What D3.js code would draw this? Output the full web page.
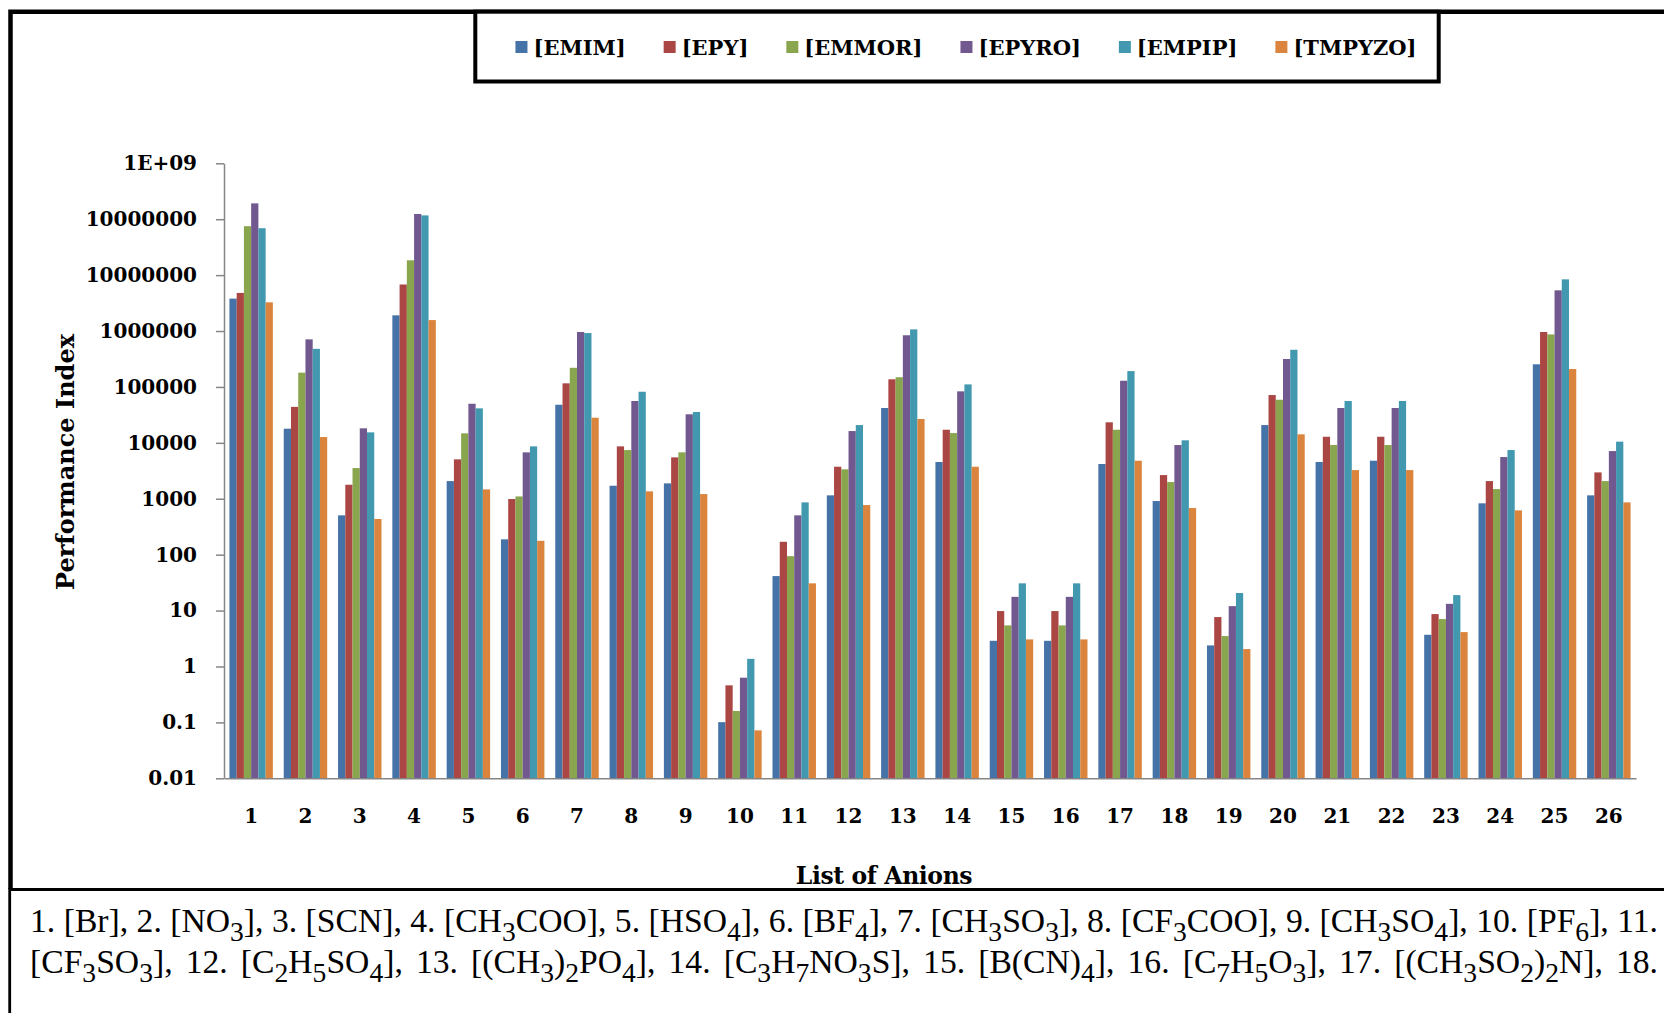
<!DOCTYPE html>
<html>
<head>
<meta charset="utf-8">
<script src="https://cdn.jsdelivr.net/npm/d3@7"></script>
<style>
  html, body { margin: 0; padding: 0; background: #fff; }
  svg { display: block; }
</style>
</head>
<body>
<svg id="chart" width="1664" height="1013"></svg>
<script>
// ---- data ----
const anions = ["1","2","3","4","5","6","7","8","9","10","11","12","13",
                "14","15","16","17","18","19","20","21","22","23","24","25","26"];
const seriesNames = ["[EMIM]", "[EPY]", "[EMMOR]", "[EPYRO]", "[EMPIP]", "[TMPYZO]"];
const seriesColors = ["#4572A7", "#AA4643", "#89A54E", "#71588F", "#4198AF", "#DB843D"];

const emim   = [3.8e6, 1.79e4, 505, 1.91e6, 2070, 188, 4.8e4, 1710, 1885, 0.101, 41.4, 1150, 4.2e4,
                4540, 2.88, 2.88, 4180, 910, 2.38, 2.08e4, 4540, 4790, 3.69, 828, 2.54e5, 1150];
const epy    = [4.8e6, 4.4e4, 1780, 6.8e6, 5070, 990, 1.16e5, 8650, 5500, 0.46, 170, 3740, 1.37e5,
                1.715e4, 9.8, 9.8, 2.33e4, 2650, 7.65, 7.16e4, 1.285e4, 1.285e4, 8.65, 2070, 9.6e5, 2960];
const emmor  = [7.5e7, 1.8e5, 3540, 1.84e7, 1.48e4, 1100, 2.2e5, 7430, 6760, 0.16, 94, 3360, 1.49e5,
                1.496e4, 5.43, 5.43, 1.715e4, 1990, 3.5, 5.9e4, 9140, 9140, 7.05, 1490, 8.7e5, 2070];
const epyro  = [1.92e8, 7.1e5, 1.82e4, 1.24e8, 5.0e4, 6760, 9.6e5, 5.6e4, 3.24e4, 0.63, 505, 1.625e4, 8.4e5,
                8.34e4, 17.6, 17.6, 1.29e5, 9140, 12, 3.16e5, 4.2e4, 4.2e4, 13.2, 5570, 5.35e6, 7130];
const empip  = [6.9e7, 4.8e5, 1.54e4, 1.17e8, 4.14e4, 8650, 9.2e5, 8.2e4, 3.56e4, 1.37, 861, 2.08e4, 1.07e6,
                1.11e5, 30.7, 30.7, 1.92e5, 1.11e4, 20.6, 4.62e5, 5.6e4, 5.6e4, 18.9, 7430, 8.4e6, 1.05e4];
const tmpyzo = [3.26e6, 1.27e4, 434, 1.57e6, 1470, 177, 2.81e4, 1356, 1213, 0.072, 30.7, 771, 2.67e4,
                3740, 3.05, 3.05, 4790, 682, 2.05, 1.42e4, 3260, 3260, 4.12, 620, 2.09e5, 861];
const seriesValues = [emim, epy, emmor, epyro, empip, tmpyzo];

const yTickValues = [0.01, 0.1, 1, 10, 100, 1000, 10000, 1e5, 1e6, 1e7, 1e8, 1e9];
const yTickLabels = ["0.01", "0.1", "1", "10", "100", "1000", "10000", "100000",
                     "1000000", "10000000", "10000000", "1E+09"];

// anion key under the chart; {n} marks a subscript
const keyLines = [
  "1. [Br], 2. [NO{3}], 3. [SCN], 4. [CH{3}COO], 5. [HSO{4}], 6. [BF{4}], 7. [CH{3}SO{3}], 8. [CF{3}COO], 9. [CH{3}SO{4}], 10. [PF{6}], 11.",
  "[CF{3}SO{3}], 12. [C{2}H{5}SO{4}], 13. [(CH{3}){2}PO{4}], 14. [C{3}H{7}NO{3}S], 15. [B(CN){4}], 16. [C{7}H{5}O{3}], 17. [(CH{3}SO{2}){2}N], 18."
];

// ---- layout ----
const svg = d3.select("#chart");
const boldSerif = "'DejaVu Serif', serif";
const plot = { left: 224, right: 1636, top: 163.3, bottom: 778.3 };

svg.append("rect").attr("width", 1664).attr("height", 1013).attr("fill", "#fff");

const x0 = d3.scaleBand().domain(anions).range([plot.left, plot.right])
  .paddingInner(0.2).paddingOuter(0.1);
const x1 = d3.scaleBand().domain(seriesNames).range([0, x0.bandwidth()]);
const y = d3.scaleLog().domain([0.01, 1e9]).range([plot.bottom, plot.top]);

// bars
const groups = svg.append("g").selectAll("g")
  .data(anions).join("g")
  .attr("transform", d => `translate(${x0(d)},0)`);
groups.selectAll("rect")
  .data((d, i) => seriesNames.map((s, k) => ({ s, k, v: seriesValues[k][i] })))
  .join("rect")
  .attr("x", d => x1(d.s))
  .attr("width", x1.bandwidth())
  .attr("y", d => y(d.v))
  .attr("height", d => plot.bottom - y(d.v))
  .attr("fill", d => seriesColors[d.k]);

// y axis
const yAxis = svg.append("g")
  .attr("transform", `translate(${plot.left},0)`)
  .call(d3.axisLeft(y).tickValues(yTickValues)
    .tickFormat((d, i) => yTickLabels[i]).tickSize(8).tickSizeOuter(0).tickPadding(19));
yAxis.selectAll("path, line").attr("stroke", "#868686").attr("stroke-width", 1.5);
yAxis.selectAll("text").attr("font-family", boldSerif).attr("font-weight", "bold")
  .attr("font-size", 20).attr("fill", "#000");

// x axis
const xAxis = svg.append("g")
  .attr("transform", `translate(0,${plot.bottom})`)
  .call(d3.axisBottom(x0).tickSize(0).tickSizeOuter(0).tickPadding(31));
xAxis.select("path").attr("stroke", "#868686").attr("stroke-width", 1.5);
xAxis.selectAll("text").attr("font-family", boldSerif).attr("font-weight", "bold")
  .attr("font-size", 20).attr("fill", "#000");

// axis titles
svg.append("text")
  .attr("transform", "translate(65,462) rotate(-90)")
  .attr("text-anchor", "middle").attr("dominant-baseline", "central")
  .attr("font-family", boldSerif).attr("font-weight", "bold").attr("font-size", 24)
  .text("Performance Index");
svg.append("text")
  .attr("x", 884).attr("y", 884)
  .attr("text-anchor", "middle")
  .attr("font-family", boldSerif).attr("font-weight", "bold").attr("font-size", 23.5)
  .attr("letter-spacing", -0.4)
  .text("List of Anions");

// outer frame of the chart area
svg.append("path")
  .attr("d", "M1664,11.7H10.5V889")
  .attr("fill", "none").attr("stroke", "#000").attr("stroke-width", 4.5);

// legend
svg.append("rect")
  .attr("x", 475.3).attr("y", 11.7).attr("width", 963.4).attr("height", 69.8)
  .attr("fill", "#fff").attr("stroke", "#000").attr("stroke-width", 4);
const legend = svg.append("g");
const items = legend.selectAll("g").data(seriesNames).join("g");
items.append("rect").attr("width", 12).attr("height", 12).attr("y", 41)
  .attr("fill", (d, i) => seriesColors[i]);
items.append("text").attr("x", 18).attr("y", 55)
  .attr("font-family", boldSerif).attr("font-weight", "bold").attr("font-size", 21)
  .text(d => d);
let cursor = 0;
const itemGap = 38;
items.each(function () {
  const w = 18 + d3.select(this).select("text").node().getComputedTextLength();
  d3.select(this).attr("data-x", cursor);
  cursor += w + itemGap;
});
const legendWidth = cursor - itemGap;
const legendStart = 966 - legendWidth / 2;
items.attr("transform", function () {
  return `translate(${legendStart + (+d3.select(this).attr("data-x"))},0)`;
});

// key box below the chart
svg.append("path")
  .attr("d", "M1664,889.5H9.7V1013")
  .attr("fill", "none").attr("stroke", "#000").attr("stroke-width", 2.8);

function writeLine(str, yPos, fontSize) {
  const t = svg.append("text")
    .attr("x", 30).attr("y", yPos)
    .attr("font-family", "'Liberation Serif', 'Times New Roman', serif")
    .attr("font-size", fontSize).attr("fill", "#000")
    .attr("xml:space", "preserve");
  const parts = str.split(/\{(\d+)\}/);
  let lowered = false;
  const drop = fontSize * 0.26;
  parts.forEach((p, i) => {
    if (!p) return;
    const isSub = i % 2 === 1;
    const ts = t.append("tspan").text(p);
    if (isSub) {
      ts.attr("font-size", fontSize * 0.82);
      if (!lowered) { ts.attr("dy", drop); lowered = true; }
    } else if (lowered) {
      ts.attr("dy", -drop); lowered = false;
    }
  });
  return t;
}

const keyLeft = 30, keyRight = 1658;
const targetW = keyRight - keyLeft;
// size the key font so the first line fills the row
const probe = writeLine(keyLines[0], -100, 24);
const keySize = 24 * targetW / probe.node().getComputedTextLength();
probe.remove();
const keyBaselines = [932, 973];
keyLines.forEach((line, i) => {
  const t = writeLine(line, keyBaselines[i], keySize);
  const natural = t.node().getComputedTextLength();
  const spaces = (line.match(/ /g) || []).length;
  if (natural < targetW && spaces) t.attr("word-spacing", (targetW - natural) / spaces);
});
</script>
</body>
</html>
